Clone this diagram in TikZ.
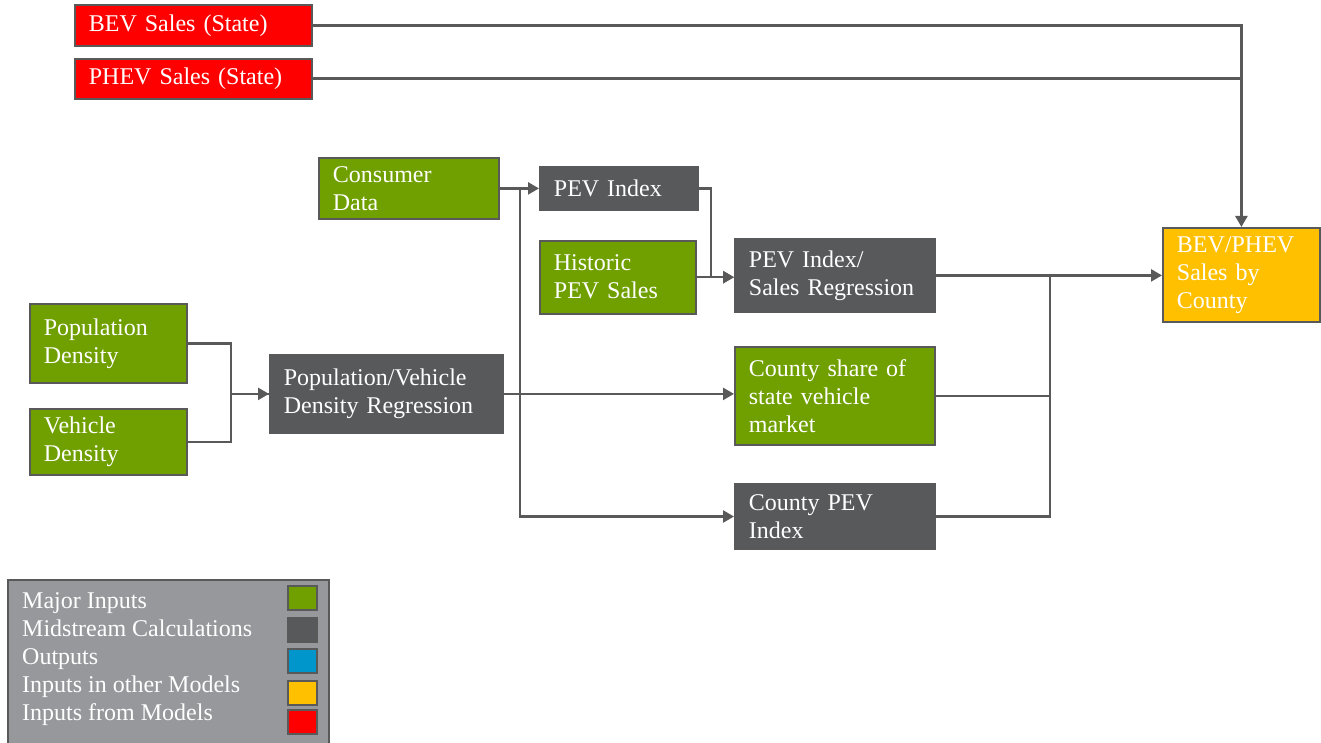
\documentclass[tikz,border=0pt]{standalone}
\usepackage{fontspec}
\setmainfont{Liberation Serif}
\usepackage{tikz}
\usetikzlibrary{arrows.meta,positioning,calc}
\definecolor{ingreen}{RGB}{112,160,0}
\definecolor{midgray}{RGB}{88,89,91}
\definecolor{outblue}{RGB}{0,150,204}
\definecolor{othyellow}{RGB}{255,192,0}
\definecolor{modred}{RGB}{255,0,0}
\definecolor{edgegray}{RGB}{89,89,89}
\definecolor{leggray}{RGB}{151,152,156}
\tikzset{
  box/.style={draw=edgegray,line width=1.8pt,align=left,inner xsep=14pt,inner ysep=0pt,text=white,anchor=north west},
  inp/.style={box,fill=ingreen},
  mid/.style={box,fill=midgray,draw=midgray},
  model/.style={box,fill=modred},
  other/.style={box,fill=othyellow},
  swatch/.style={draw=edgegray,line width=1.8pt,minimum width=29pt,minimum height=24pt,inner sep=0pt},
  arr/.style={-{Triangle[length=11pt,width=12pt]},line width=2.4pt,draw=edgegray},
  lnk/.style={line width=2.4pt,draw=edgegray}
}

\begin{document}
\begin{tikzpicture}[x=1pt,y=-1pt,font=\fontsize{24}{28}\selectfont]
\useasboundingbox (0,0) rectangle (1321,743);
% state level inputs
\node[model,text width=209pt,minimum height=41pt] (bev) at (74,4) {BEV Sales (State)};
\node[model,text width=209pt,minimum height=40pt,below=11pt of bev.south west,anchor=north west] (phev) {PHEV Sales (State)};
% index branch
\node[inp,text width=152pt,minimum height=61pt] (cons) at (318,157) {Consumer\\Data};
\node[mid,text width=130pt,minimum height=43pt] (pevidx) at (539,166) {PEV Index};
\node[inp,text width=128pt,minimum height=73pt,below=29pt of pevidx.south west,anchor=north west] (hist) {Historic\\PEV Sales};
\node[mid,text width=172pt,minimum height=73pt] (reg) at (734,238) {PEV Index/\\Sales~Regression};
\node[inp,text width=172pt,minimum height=98pt,below=33pt of reg.south west,anchor=north west] (cshare) {County share of\\state vehicle\\market};
\node[mid,text width=172pt,minimum height=66pt,below=37pt of cshare.south west,anchor=north west] (cpev) {County PEV\\Index};
% density branch
\node[inp,text width=129pt,minimum height=79pt] (popd) at (29,303) {Population\\Density};
\node[inp,text width=129pt,minimum height=66pt,below=24pt of popd.south west,anchor=north west] (vehd) {Vehicle\\Density};
\node[mid,text width=205pt,minimum height=78pt] (pvreg) at (269,354) {Population/Vehicle\\Density~Regression};
% output
\node[other,text width=129pt,minimum height=94pt] (out) at (1162,227) {BEV/PHEV\\Sales by\\County};
% legend
\node[draw=edgegray,fill=leggray,line width=1.8pt,anchor=north west,minimum width=321pt,minimum height=172pt] (leg) at (7,579) {};
\node[anchor=north west,align=left,inner sep=0pt,text=white] (legtxt) at (22,592) {Major Inputs\\Midstream~Calculations\\Outputs\\Inputs in other Models\\Inputs from Models};
\node[swatch,fill=ingreen] (sw1) at (302.5,598) {};
\node[swatch,fill=midgray] (sw2) at (302.5,630) {};
\node[swatch,fill=outblue] (sw3) at (302.5,661) {};
\node[swatch,fill=othyellow] (sw4) at (302.5,693) {};
\node[swatch,fill=modred] (sw5) at (302.5,722) {};
% connectors
\coordinate (split) at ($(cons.east)+(20,0)$);
\coordinate (merge) at ($(reg.east)+(114,0)$);
\draw[arr] (cons.east) -- (cons.east -| pevidx.west);
\draw[arr] (split) |- (cpev.west);
\draw[arr] (pvreg.east) -- (pvreg.east -| cshare.west);
\draw[arr] (pevidx.east) -- ++(12,0) |- (hist.east -| reg.west);
\draw[arr] (hist.east) -- (hist.east -| reg.west);
\draw[lnk] (popd.east) -- ++(43,0) |- (pvreg.west);
\draw[arr] (vehd.east) -- ++(43,0) |- (pvreg.west);
\draw[arr] (reg.east) -- (reg.east -| out.west);
\draw[lnk] (cshare.east) -| (merge);
\draw[lnk] (cpev.east) -| (merge);
\draw[arr] (bev.east) -| (out.north);
\draw[lnk] (phev.east) -- (phev.east -| out.north);
\end{tikzpicture}
\end{document}
